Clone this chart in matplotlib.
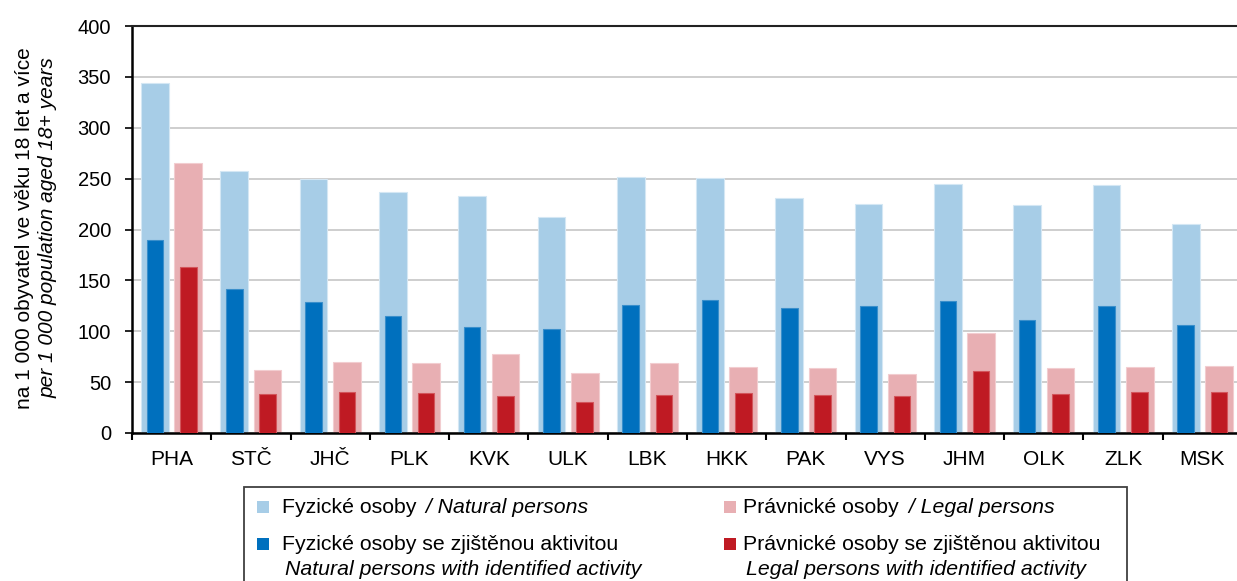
import matplotlib
matplotlib.use("Agg")
import matplotlib.pyplot as plt
import numpy as np
from matplotlib.patches import Rectangle

plt.rcParams['font.family'] = ['Liberation Sans', 'DejaVu Sans']

regions = ["PHA", "STČ", "JHČ", "PLK", "KVK", "ULK", "LBK", "HKK", "PAK", "VYS", "JHM", "OLK", "ZLK", "MSK"]
natural = [344, 257.5, 250, 236.5, 232.5, 212.5, 251.5, 251, 230.5, 225.5, 244.5, 224, 243.5, 205.5]
natural_active = [190, 142, 129, 114.5, 104, 102, 125.5, 130.5, 123, 125, 130, 111, 125, 106]
legal = [265, 62, 70, 68.5, 77.5, 58.5, 68.5, 64.5, 63.5, 57.5, 98.5, 64, 65, 65.5]
legal_active = [163, 38, 40.5, 39.5, 36.5, 30.5, 37.5, 39, 37, 36, 60.5, 38, 40, 40.5]
yticks = [0, 50, 100, 150, 200, 250, 300, 350, 400]

c_nat = "#A7CDE7"
c_nat_act = "#0070BE"
c_leg = "#E8AFB3"
c_leg_act = "#BF1A23"

W, H = 1237, 581
fig = plt.figure(figsize=(W / 100, H / 100), dpi=100)
ax = fig.add_axes([132 / W, 148 / H, 1110 / W, 407 / H])

x = np.arange(len(regions))
off = 0.21
ax.bar(x - off, natural, width=0.35, color=c_nat, edgecolor="#D4E7F4", linewidth=0.8, zorder=2)
ax.bar(x - off, natural_active, width=0.21, color=c_nat_act, edgecolor="#3A8FCB", linewidth=0.8, zorder=3)
ax.bar(x + off, legal, width=0.35, color=c_leg, edgecolor="#F2CDD0", linewidth=0.8, zorder=2)
ax.bar(x + off, legal_active, width=0.21, color=c_leg_act, edgecolor="#D2555B", linewidth=0.8, zorder=3)

ax.set_xlim(-0.5, len(regions) - 0.5)
ax.set_ylim(0, 400)
ax.set_yticks(yticks)
ax.set_yticklabels([str(v) for v in yticks], fontsize=14.5)
ax.yaxis.grid(True, color="#C6C6C6", linewidth=1.2, zorder=0)
ax.set_axisbelow(True)

ax.set_xticks(x)
ax.set_xticklabels(regions, fontsize=15)
ax.set_xticks(np.arange(-0.5, len(regions), 1.0), minor=True)
ax.tick_params(axis="x", which="major", length=0, pad=12)
ax.tick_params(axis="x", which="minor", length=5, width=1.5, direction="out", color="black")
ax.tick_params(axis="y", which="major", length=5, width=1.2, direction="out", pad=10, color="black")

for s in ["left", "bottom"]:
    ax.spines[s].set_linewidth(1.8)
    ax.spines[s].set_color("black")
ax.spines["top"].set_linewidth(1.5)
ax.spines["top"].set_color("#222222")
ax.spines["right"].set_visible(False)

# y label (two lines: Czech regular, English italic)
fig.text(25 / W, 1 - 228 / H, "na 1 000 obyvatel ve věku 18 let a více", rotation=90,
         ha="center", va="center", fontsize=15)
fig.text(48 / W, 1 - 228 / H, "per 1 000 population aged 18+ years", rotation=90,
         ha="center", va="center", fontsize=15, style="italic")

# legend box
fig.patches.append(Rectangle((244 / W, -0.05), (1127 - 244) / W, 0.05 + (581 - 487) / H,
                             transform=fig.transFigure, facecolor="white",
                             edgecolor="#404040", linewidth=1.3, zorder=5))

renderer = fig.canvas.get_renderer()
FS = 15.3

def mixed(xpx, ypx, regular, italic, fs=FS):
    t = fig.text(xpx / W, 1 - ypx / H, regular, fontsize=fs, va="baseline", ha="left", zorder=6)
    bb = t.get_window_extent(renderer=renderer)
    if italic:
        fig.text((bb.x1 + 4) / W, 1 - ypx / H, italic, fontsize=fs, va="baseline", ha="left",
                 style="italic", zorder=6)

def swatch(xpx, ypx, color):
    fig.patches.append(Rectangle((xpx / W, 1 - (ypx + 12) / H), 12 / W, 12 / H,
                                 transform=fig.transFigure, facecolor=color,
                                 edgecolor="none", zorder=6))

swatch(257, 501, c_nat)
mixed(282, 513, "Fyzické osoby", " / Natural persons")
swatch(257, 538, c_nat_act)
mixed(282, 550, "Fyzické osoby se zjištěnou aktivitou", None)
fig.text(285 / W, 1 - 575 / H, "Natural persons with identified activity", fontsize=FS,
         va="baseline", ha="left", style="italic", zorder=6)

swatch(724, 501, c_leg)
mixed(743, 513, "Právnické osoby", " / Legal persons")
swatch(724, 538, c_leg_act)
mixed(743, 550, "Právnické osoby se zjištěnou aktivitou", None)
fig.text(746 / W, 1 - 575 / H, "Legal persons with identified activity", fontsize=FS,
         va="baseline", ha="left", style="italic", zorder=6)

fig.savefig("out.png", dpi=100)
